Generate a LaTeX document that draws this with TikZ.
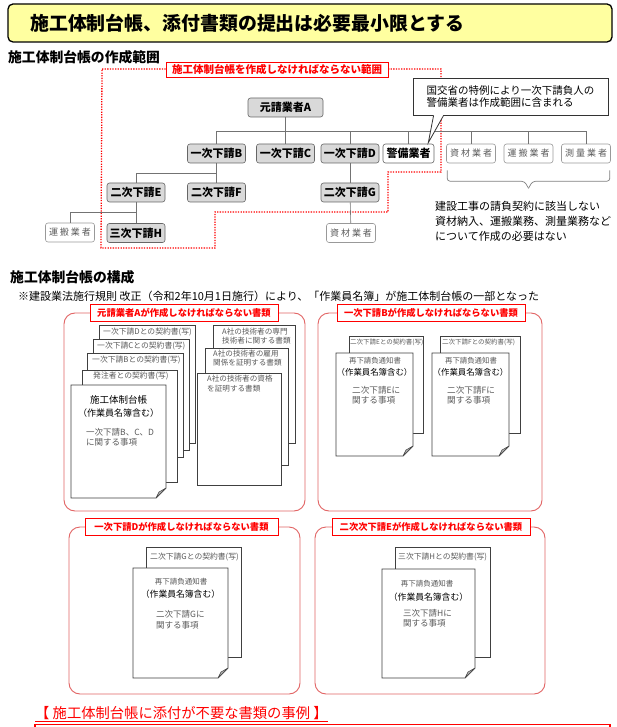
\documentclass[tikz,border=0pt]{standalone}
\usepackage{fontspec}
\setmainfont{Noto Sans CJK JP}
\usetikzlibrary{calc,positioning}

\definecolor{titlefill}{RGB}{255,255,160}
\definecolor{firmfill}{RGB}{217,217,217}
\definecolor{scopered}{RGB}{255,0,0}
\definecolor{panelred}{RGB}{226,100,100}
\definecolor{inkgray}{RGB}{90,90,90}

\newcommand\fsz[2]{\fontsize{#1}{#2}\selectfont}
\def\plainpage(#1,#2)(#3,#4){\draw[page] (#1,#2) rectangle (#3,#4);}
\def\foldpage(#1,#2)(#3,#4){%
  \draw[page] (#1,#2) -- (#3,#2) -- (#3,#4-10) -- (#3-10,#4) -- (#1,#4) -- cycle;
  \draw[fold] (#3,#4-10) -- (#3-7,#4-6) -- (#3-10,#4) -- cycle;}

\tikzset{
  firm/.style={draw=black!60, fill=firmfill, rounded corners=2.5pt, line width=0.6pt,
    minimum width=58, minimum height=19, inner sep=1pt, font=\fsz{11}{13}\bfseries},
  guard/.style={firm, fill=white, minimum width=51},
  vendor/.style={draw=black!40, fill=white, rounded corners=2.5pt, line width=0.6pt,
    minimum width=49, minimum height=19, inner sep=1pt, text=inkgray, font=\fsz{9}{11}},
  link/.style={draw=black!55, line width=0.6pt},
  region/.style={draw=scopered, line width=1.3pt, dash pattern=on 1.3pt off 1.3pt},
  tag/.style={draw=scopered, fill=white, text=scopered, line width=0.9pt, inner sep=1pt,
    minimum height=17, font=\fsz{9.3}{11}\bfseries},
  panel/.style={draw=panelred, line width=0.9pt, rounded corners=11pt},
  page/.style={draw=black!75, fill=white, line width=0.7pt},
  fold/.style={draw=black!75, fill=black!30, line width=0.5pt, line join=round},
  small/.style={inner sep=0, text=inkgray, anchor=west},
  memo/.style={inner sep=0, text=inkgray, anchor=north west, align=left},
}

\begin{document}
\begin{tikzpicture}[x=1pt, y=-1pt]
	%%%%% START %%%%%
	\useasboundingbox (0,0) rectangle (616,727);
	\fill[white] (0,0) rectangle (616,727);
	
	\draw[line width=1.3pt, fill=titlefill, rounded corners=5pt] (8,4) rectangle (612,42);
	\node[anchor=west, inner sep=0, font=\fsz{18.9}{22}\bfseries] (title) at (30,23) {施工体制台帳、添付書類の提出は必要最小限とする};
	
	\node[anchor=west, inner sep=0, font=\fsz{13.8}{15}\bfseries] (head1) at (8,57) {施工体制台帳の作成範囲};
	
	% scope of the ledger
	\draw[region] (102,69) -- (441,69) -- (441,172) -- (388,172) -- (388,212) -- (215,212) -- (215,248) -- (101,248) -- cycle;
	\node[tag, minimum width=222, minimum height=15, font=\fsz{10.5}{12}\bfseries] (scopetag) at (277,70) {施工体制台帳を作成しなければならない範囲};
	
	% org chart
	\node[firm, minimum width=75] (A) at (285.5,107.5) {元請業者A};
	\node[firm] (B) at (216.5,153.5) {一次下請B};
	\node[firm] (C) at (285.5,153.5) {一次下請C};
	\node[firm] (D) at (350,153.5) {一次下請D};
	\node[guard] (keibi) at (408.5,153.5) {警備業者};
	\node[vendor] (shizai) at (471,153.5) {資\kern2pt 材\kern2pt 業\kern2pt 者};
	\node[vendor] (unpan) at (528.5,153.5) {運\kern2pt 搬\kern2pt 業\kern2pt 者};
	\node[vendor] (sokuryo) at (586,153.5) {測\kern2pt 量\kern2pt 業\kern2pt 者};
	
	\node[firm] (E) at (136,192.5) {二次下請E};
	\node[firm] (F) at (216.5,192.5) {二次下請F};
	\node[firm] (G) at (350,192.5) {二次下請G};
	
	\node[firm] (H) at (136,233) {三次下請H};
	\node[vendor] (unpanH) at (70,232.5) {運\kern2pt 搬\kern2pt 業\kern2pt 者};
	\node[vendor] (shizaiG) at (351,233) {資\kern2pt 材\kern2pt 業\kern2pt 者};
	
	\coordinate (busL) at (216.5,131.5);
	\draw[link] (A.south) -- (A.south |- busL);
	\draw[link] (busL) -- (sokuryo.north |- busL);
	\foreach \n in {B,C,D,keibi,shizai,unpan,sokuryo}
		\draw[link] (\n.north) -- (\n.north |- busL);
	\draw[link] (B.south) -- (F.north);
	\draw[link] (E.north) |- ($(B.south)!0.5!(F.north)$);
	\draw[link] (E.south) -- (H.north);
	\draw[link] (unpanH.north) |- ($(E.south)!0.5!(H.north)$);
	\draw[link] (D) -- (G);
	\draw[link] (G) -- (shizaiG);
	
	% callout
	\node[draw=black!80, fill=white, line width=0.8pt, minimum width=195, minimum height=37, align=left, inner sep=0, font=\fsz{10.5}{11.5}] (note) at (510.5,96.5) {国交省の特例により一次下請負人の\\警備業者は作成範囲に含まれる};
	\coordinate (tip) at ($(keibi.north east)+(-6,-1)$);
	\fill[white] ($(note.south west)+(21,-1)$) -- (tip) -- ($(note.south west)+(31,-1)$) -- cycle;
	\draw[black!80, line width=0.8pt] ($(note.south west)+(21,0)$) -- (tip) -- ($(note.south west)+(31,0)$);
	
	% brace under the vendors
	\coordinate (braceL) at ($(shizai.south west)+(1,7)$);
	\coordinate (braceR) at ($(sokuryo.south east)+(-1,7)$);
	\coordinate (braceM) at ($(unpan.south)+(0,25)$);
	\draw[black!50, line width=0.7pt, rounded corners=3pt] (braceL) -- ++(0,11) -- ($(braceM)+(-4,-7)$) -- (braceM);
	\draw[black!50, line width=0.7pt, rounded corners=3pt] (braceR) -- ++(0,11) -- ($(braceM)+(4,-7)$) -- (braceM);
	\node[anchor=north west, inner sep=0, align=left, font=\fsz{11}{15}] (exempt) at (435,201) {建設工事の請負契約に該当しない\\資材納入、運搬業務、測量業務など\\について作成の必要はない};
	
	% composition of the ledger
	\node[anchor=west, inner sep=0, font=\fsz{13.8}{15}\bfseries] (head2) at (10,277) {施工体制台帳の構成};
	\node[anchor=west, inner sep=0, font=\fsz{11}{13}] (rule) at (18,296) {※建設業法施行規則 改正（令和2年10月1日施行）により、「作業員名簿」が施工体制台帳の一部となった};
	
	% panel A
	\draw[panel] (64,313) rectangle (305,511);
	\node[tag, minimum width=188] (tagA) at (184,313) {元請業者Aが作成しなければならない書類};
	\plainpage(99,325)(195,443)
	\node[small, font=\fsz{7.8}{9}] (lblD) at (103,332) {一次下請Dとの契約書(写)};
	\plainpage(93,339)(189,450)
	\node[small, font=\fsz{7.8}{9}] (lblC) at (97,345.5) {一次下請Cとの契約書(写)};
	\plainpage(87,353)(183,457)
	\node[small, font=\fsz{7.8}{9}] (lblB) at (92,360) {一次下請Bとの契約書(写)};
	\plainpage(82,370)(177,482)
	\node[small, font=\fsz{7.8}{9}] (lblO) at (93,376) {発注者との契約書(写)};
	\foldpage(71,385)(166,498)
	\node[inner sep=0, font=\fsz{9.5}{11}] (ledger) at (118.5,400) {施工体制台帳};
	\node[inner sep=0, font=\fsz{9}{11}] (ledgerSub) at (118.5,413) {（作業員名簿含む）};
	\node[memo, font=\fsz{8.5}{10}] (ledgerMemo) at (86,428.4) {一次下請B、C、D\\に関する事項};
	
	\plainpage(213,325)(295,443)
	\node[memo, font=\fsz{7.6}{9}] (lblSenmon) at (222,328) {A社の技術者の専門\\技術者に関する書類};
	\plainpage(205,348)(288,465)
	\node[memo, font=\fsz{7.6}{9}] (lblKoyou) at (213,350) {A社の技術者の雇用\\関係を証明する書類};
	\plainpage(197,373)(281,485)
	\node[memo, font=\fsz{7.6}{9.5}] (lblShikaku) at (207,375) {A社の技術者の資格\\を証明する書類};
	
	% panel B
	\draw[panel] (318,313) rectangle (542,511);
	\node[tag, minimum width=188] (tagB) at (431,313) {一次下請Bが作成しなければならない書類};
	\plainpage(349,336)(423,433)
	\node[small, font=\fsz{6.5}{8}] (lblE) at (350,342) {二次下請Eとの契約書(写)};
	\foldpage(336,353)(413,456)
	\node[inner sep=0, text=inkgray, font=\fsz{7.4}{9}] (noticeE) at (375,361) {再下請負通知書};
	\node[inner sep=0, font=\fsz{8.4}{10}] (subE) at (374.5,372) {（作業員名簿含む）};
	\node[memo, font=\fsz{8.6}{10}] (memoE) at (352,385.7) {二次下請Eに\\関する事項};
	\plainpage(440,336)(520,433)
	\node[small, font=\fsz{6.5}{8}] (lblF) at (442,342) {二次下請Fとの契約書(写)};
	\foldpage(432,353)(509,456)
	\node[inner sep=0, text=inkgray, font=\fsz{7.4}{9}] (noticeF) at (471,361) {再下請負通知書};
	\node[inner sep=0, font=\fsz{8.4}{10}] (subF) at (470.5,372) {（作業員名簿含む）};
	\node[memo, font=\fsz{8.6}{10}] (memoF) at (447,385.7) {二次下請Fに\\関する事項};
	
	% panel D
	\draw[panel] (69,527) rectangle (300,694);
	\node[tag, minimum width=193] (tagD) at (181.5,527) {一次下請Dが作成しなければならない書類};
	\plainpage(146,547)(241,657)
	\node[small, font=\fsz{7.8}{9}] (lblG) at (150,557) {二次下請Gとの契約書(写)};
	\foldpage(133,568)(228,678)
	\node[inner sep=0, text=inkgray, font=\fsz{7.5}{9}] (noticeG) at (181,582) {再下請負通知書};
	\node[inner sep=0, font=\fsz{8.8}{10}] (subG) at (180.5,594) {（作業員名簿含む）};
	\node[memo, font=\fsz{8.5}{11}] (memoG) at (156,609.7) {二次下請Gに\\関する事項};
	
	% panel E
	\draw[panel] (315,527) rectangle (545,694);
	\node[tag, minimum width=198] (tagE) at (431,527) {二次次下請Eが作成しなければならない書類};
	\plainpage(395,547)(490,657)
	\node[small, font=\fsz{7.8}{9}] (lblH) at (398,557) {三次下請Hとの契約書(写)};
	\foldpage(382,569)(475,678)
	\node[inner sep=0, text=inkgray, font=\fsz{7.5}{9}] (noticeH) at (427,584) {再下請負通知書};
	\node[inner sep=0, font=\fsz{8.8}{10}] (subH) at (428.5,597) {（作業員名簿含む）};
	\node[memo, font=\fsz{8.5}{10}] (memoH) at (403,608.7) {三次下請Hに\\関する事項};
	
	% not needed
	\node[anchor=west, inner sep=0, text=scopered, font=\fsz{14.3}{16}] (extra) at (35,713) {【 施工体制台帳に添付が不要な書類の事例 】};
	\draw[scopered, line width=0.8pt] ($(extra.south west)+(0,1.5)$) -- ($(extra.south east)+(0,1.5)$);
	\draw[scopered, line width=1.4pt] (35,728) -- (35,724.5) -- (610,724.5) -- (610,728);
	%%%%% END %%%%%
\end{tikzpicture}
\end{document}
